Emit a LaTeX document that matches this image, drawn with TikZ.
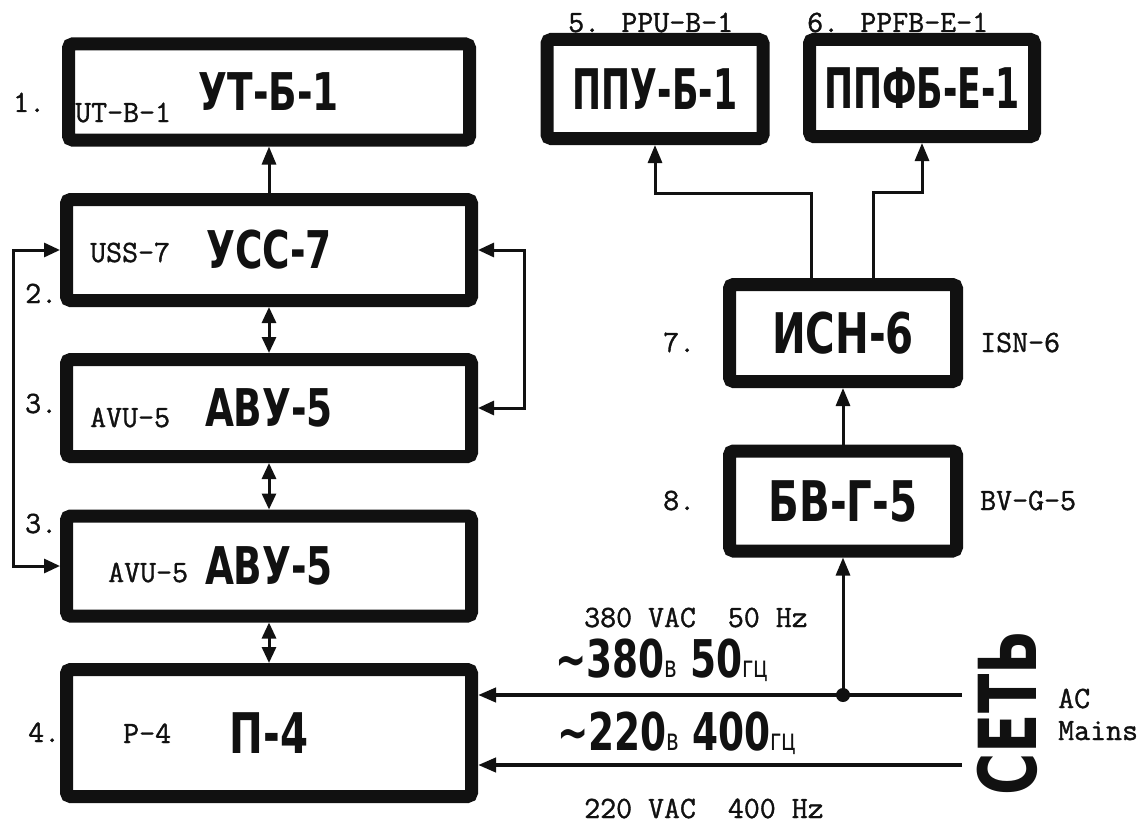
\documentclass[tikz,border=0pt]{standalone}
\usepackage{fontspec}
\usetikzlibrary{arrows.meta,positioning,calc}
\newfontfamily\blockfont[FakeStretch=0.72]{DejaVu Sans}
\newfontfamily\narrowfont[FakeStretch=0.62]{DejaVu Sans}
\newfontfamily\typefont[FakeBold=1.2]{Latin Modern Mono}
\newcommand{\lowtag}[1]{{\mdseries\fontsize{30}{30}\selectfont #1}}
\definecolor{Ink}{HTML}{111111}

\begin{document}
\begin{tikzpicture}[x=1pt,y=-1pt,
  every node/.style={font=\typefont\fontsize{31}{31}\selectfont,inner sep=0pt,text=Ink},
  blk/.style={draw=Ink,line width=13pt,rounded corners=4pt,fill=white,
    font=\blockfont\bfseries\fontsize{52}{52}\selectfont},
  big/.style={font=\blockfont\bfseries\fontsize{56}{56}\selectfont},
  slim/.style={font=\narrowfont\bfseries\fontsize{56}{56}\selectfont},
  conn/.style={draw=Ink,line width=3pt},
  tip/.style={-{Triangle[length=18pt,width=14pt]}},
  dtip/.style={{Triangle[length=16pt,width=14pt]}-{Triangle[length=16pt,width=14pt]}}]
  \useasboundingbox[fill=white] (0,0) rectangle (1142,824);
  % left column
  \node[blk,minimum width=401pt,minimum height=96pt] (b1) at (269,92) {УТ-Б-1};
  \node[blk,minimum width=405pt,minimum height=101pt] (b2) at (269,250) {УСС-7};
  \node[blk,minimum width=405pt,minimum height=97pt] (b3) at (269,408) {АВУ-5};
  \node[blk,minimum width=405pt,minimum height=100pt] (b4) at (269,566) {АВУ-5};
  \node[blk,big,minimum width=405pt,minimum height=127pt] (b5) at (269,733) {П-4};
  \node[anchor=base west] (n1) at (13,112) {1.};
  \node[anchor=base west] (n2) at (25,303) {2.};
  \node[anchor=base west] (n3) at (25,413) {3.};
  \node[anchor=base west] (n3b) at (25,533) {3.};
  \node[anchor=base west] (n4) at (28,742) {4.};
  \node[anchor=base west] (t1) at (75,122) {UT-B-1};
  \node[anchor=base west] (t2) at (90,262) {USS-7};
  \node[anchor=base west] (t3) at (90,427) {AVU-5};
  \node[anchor=base west] (t3b) at (108,582) {AVU-5};
  \node[anchor=base west] (t4) at (123,743) {P-4};
  % right column
  \node[blk,slim,minimum width=216pt,minimum height=99pt] (ppu) at (655,89) {ППУ-Б-1};
  \node[blk,slim,minimum width=225pt,minimum height=97pt] (ppfb) at (922,88) {ППФБ-Е-1};
  \node[blk,big,minimum width=227pt,minimum height=97pt] (isn) at (843,333) {ИСН-6};
  \node[blk,big,minimum width=227pt,minimum height=100pt] (bv) at (843,501) {БВ-Г-5};
  \node[anchor=base west] (t5) at (568,32) {5. PPU-B-1};
  \node[anchor=base west] (t6) at (807,32) {6. PPFB-E-1};
  \node[anchor=base west] (n7) at (663,352) {7.};
  \node[anchor=base west] (t7) at (980,352) {ISN-6};
  \node[anchor=base west] (n8) at (663,510) {8.};
  \node[anchor=base west] (t8) at (980,510) {BV-G-5};
  % mains
  \node[anchor=base west] (e380) at (584,627) {380 VAC~~50 Hz};
  \node[anchor=base west,font=\blockfont\bfseries\fontsize{52}{52}\selectfont] (v380) at (555,677) {∼380\lowtag{в} 50\lowtag{гц}};
  \node[anchor=base west,font=\blockfont\bfseries\fontsize{52}{52}\selectfont] (v220) at (557,750) {∼220\lowtag{в} 400\lowtag{гц}};
  \node[anchor=base west] (e220) at (584,818) {220 VAC~~400 Hz};
  \node[rotate=90,font=\blockfont\bfseries\fontsize{80}{80}\selectfont] (net) at (1007,713) {СЕТЬ};
  \node[anchor=base west] (ac) at (1058,708) {AC};
  \node[anchor=base west] (mains) at (1058,740) {Mains};
  \coordinate (m380) at (962,695);
  \coordinate (m220) at (962,765);
  \coordinate (tap) at (bv.south |- m380);
  % connectors
  \draw[conn,tip] (b2) -- (b1);
  \draw[conn,dtip] (b2) -- (b3);
  \draw[conn,dtip] (b3) -- (b4);
  \draw[conn,dtip] (b4) -- (b5);
  \draw[conn,dtip] (b2.west) -- ++(-47,0) |- (b4.west);
  \draw[conn,dtip] (b2.east) -- ++(46,0) |- (b3.east);
  \draw[conn,tip] ([xshift=-32pt]isn.north) -- ++(0,-85) -| (ppu.south);
  \draw[conn,tip] ([xshift=30pt]isn.north) -- ++(0,-86) -| (ppfb.south);
  \draw[conn,tip] (bv) -- (isn);
  \draw[conn,line width=4pt,tip] (m380) -- (b5.east |- m380);
  \draw[conn,line width=4pt,tip] (m220) -- (b5.east |- m220);
  \draw[conn,tip] (tap) -- (bv.south);
  \fill[Ink] (tap) circle (7pt);
\end{tikzpicture}
\end{document}
